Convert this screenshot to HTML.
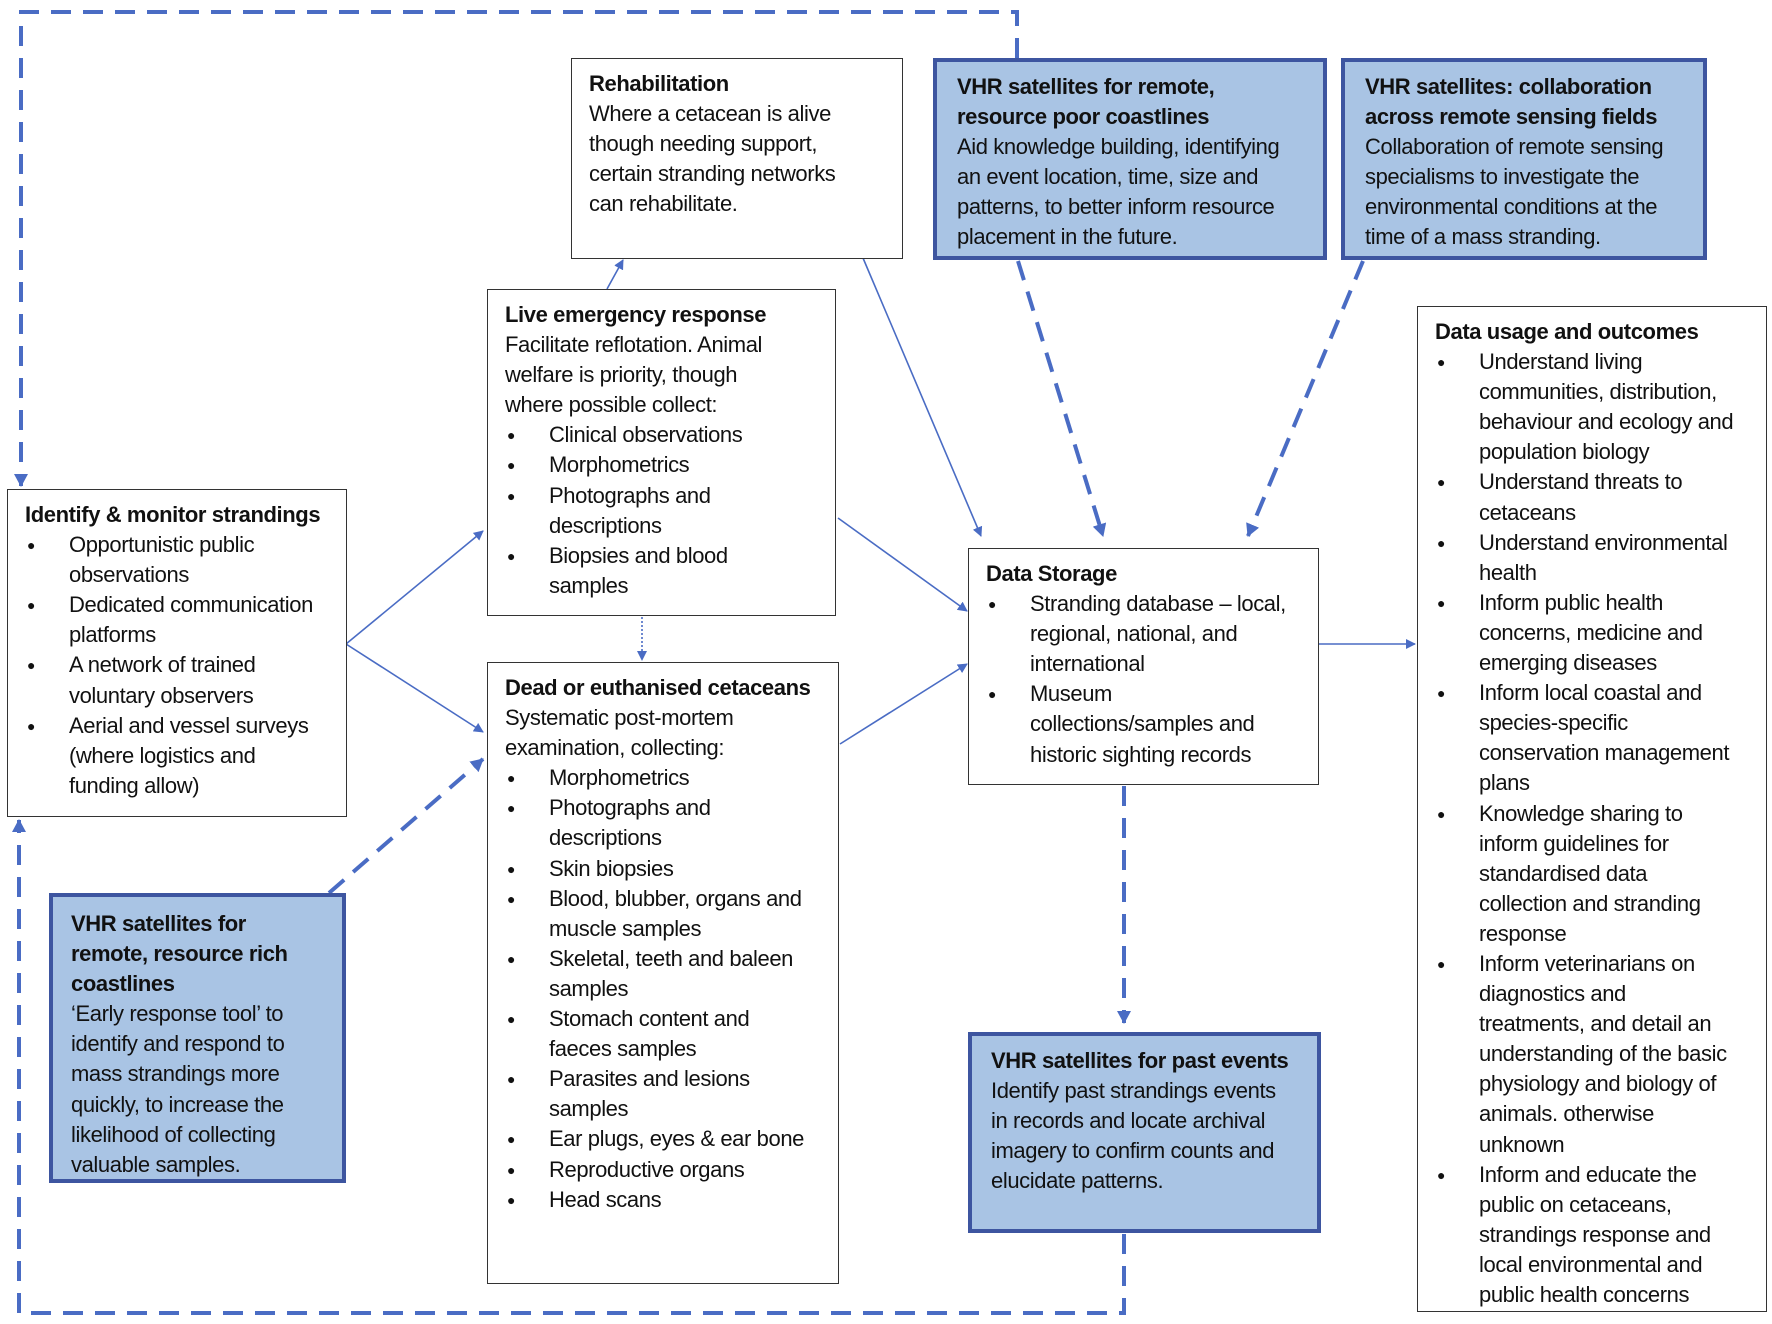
<!DOCTYPE html>
<html><head><meta charset="utf-8"><style>
body{margin:0;width:1772px;height:1324px;background:#fff;position:relative;overflow:hidden;font-family:"Liberation Sans",sans-serif;color:#111}
.b{position:absolute;box-sizing:border-box;border:1.5px solid #333;background:#fff;padding:10px 0 0 17px;font-size:22px;line-height:30.1px;letter-spacing:-0.4px;white-space:nowrap}
.v{background:#a9c4e4;border:4px solid #3d55a0}
.b b{font-weight:bold}
ul{margin:0;padding:0;list-style:none}
li{position:relative;padding-left:44px}
li:before{content:"●";position:absolute;left:2px;top:0;font-size:14px}
svg{position:absolute;left:0;top:0}
</style></head><body>
<svg width="1772" height="1324">
<defs><marker id="a" markerWidth="10" markerHeight="10" refX="9" refY="5" orient="auto" markerUnits="userSpaceOnUse"><path d="M0,0 L10,5 L0,10 z" fill="#4a6cc4"/></marker>
<marker id="A" markerWidth="14" markerHeight="14" refX="12" refY="7" orient="auto" markerUnits="userSpaceOnUse"><path d="M0,0 L13,7 L0,14 z" fill="#4a6cc4"/></marker></defs>
<g fill="none" stroke="#4a6cc4">
<path d="M1017,58 V12 H21 V486" stroke-width="4" stroke-dasharray="20,12" marker-end="url(#A)"/>
<path d="M1124,1234 V1313 H19 V820" stroke-width="4" stroke-dasharray="20,12" marker-end="url(#A)"/>
<path d="M346,644 L483,531" stroke-width="1.6" marker-end="url(#a)"/>
<path d="M346,644 L483,732" stroke-width="1.6" marker-end="url(#a)"/>
<path d="M607,289 L623,260" stroke-width="1.6" marker-end="url(#a)"/>
<path d="M642,617 L642,660" stroke-width="1.6" stroke-dasharray="2,2" marker-end="url(#a)"/>
<path d="M863,258 L981,536" stroke-width="1.6" marker-end="url(#a)"/>
<path d="M838,518 L967,611" stroke-width="1.6" marker-end="url(#a)"/>
<path d="M840,744 L967,664" stroke-width="1.6" marker-end="url(#a)"/>
<path d="M1018,261 L1103,536" stroke-width="4" stroke-dasharray="20,12" marker-end="url(#A)"/>
<path d="M1363,261 L1248,536" stroke-width="4" stroke-dasharray="20,12" marker-end="url(#A)"/>
<path d="M1318,644 L1415,644" stroke-width="1.6" marker-end="url(#a)"/>
<path d="M1124,786 L1124,1023" stroke-width="4" stroke-dasharray="20,12" marker-end="url(#A)"/>
<path d="M329,893 L483,759" stroke-width="4" stroke-dasharray="20,12" marker-end="url(#A)"/>
</g></svg>

<div class="b" style="left:7px;top:489px;width:340px;height:328px"><b>Identify &amp; monitor strandings</b><ul><li>Opportunistic public<br>observations</li><li>Dedicated communication<br>platforms</li><li>A network of trained<br>voluntary observers</li><li>Aerial and vessel surveys<br>(where logistics and<br>funding allow)</li></ul></div>

<div class="b" style="left:571px;top:58px;width:332px;height:201px"><b>Rehabilitation</b><br>Where a cetacean is alive<br>though needing support,<br>certain stranding networks<br>can rehabilitate.</div>

<div class="b" style="left:487px;top:289px;width:349px;height:327px"><b>Live emergency response</b><br>Facilitate reflotation. Animal<br>welfare is priority, though<br>where possible collect:<ul><li>Clinical observations</li><li>Morphometrics</li><li>Photographs and<br>descriptions</li><li>Biopsies and blood<br>samples</li></ul></div>

<div class="b" style="left:487px;top:662px;width:352px;height:622px"><b>Dead or euthanised cetaceans</b><br>Systematic post-mortem<br>examination, collecting:<ul><li>Morphometrics</li><li>Photographs and<br>descriptions</li><li>Skin biopsies</li><li>Blood, blubber, organs and<br>muscle samples</li><li>Skeletal, teeth and baleen<br>samples</li><li>Stomach content and<br>faeces samples</li><li>Parasites and lesions<br>samples</li><li>Ear plugs, eyes &amp; ear bone</li><li>Reproductive organs</li><li>Head scans</li></ul></div>

<div class="b v" style="left:933px;top:58px;width:394px;height:202px;padding-left:20px"><b>VHR satellites for remote,<br>resource poor coastlines</b><br>Aid knowledge building, identifying<br>an event location, time, size and<br>patterns, to better inform resource<br>placement in the future.</div>

<div class="b v" style="left:1341px;top:58px;width:366px;height:202px;padding-left:20px"><b>VHR satellites: collaboration<br>across remote sensing fields</b><br>Collaboration of remote sensing<br>specialisms to investigate the<br>environmental conditions at the<br>time of a mass stranding.</div>

<div class="b" style="left:968px;top:548px;width:351px;height:237px"><b>Data Storage</b><ul><li>Stranding database – local,<br>regional, national, and<br>international</li><li>Museum<br>collections/samples and<br>historic sighting records</li></ul></div>

<div class="b" style="left:1417px;top:306px;width:350px;height:1006px"><b>Data usage and outcomes</b><ul><li>Understand living<br>communities, distribution,<br>behaviour and ecology and<br>population biology</li><li>Understand threats to<br>cetaceans</li><li>Understand environmental<br>health</li><li>Inform public health<br>concerns, medicine and<br>emerging diseases</li><li>Inform local coastal and<br>species-specific<br>conservation management<br>plans</li><li>Knowledge sharing to<br>inform guidelines for<br>standardised data<br>collection and stranding<br>response</li><li>Inform veterinarians on<br>diagnostics and<br>treatments, and detail an<br>understanding of the basic<br>physiology and biology of<br>animals. otherwise<br>unknown</li><li>Inform and educate the<br>public on cetaceans,<br>strandings response and<br>local environmental and<br>public health concerns</li></ul></div>

<div class="b v" style="left:49px;top:893px;width:297px;height:290px;padding-left:18px;padding-top:12px"><b>VHR satellites for<br>remote, resource rich<br>coastlines</b><br>‘Early response tool’ to<br>identify and respond to<br>mass strandings more<br>quickly, to increase the<br>likelihood of collecting<br>valuable samples.</div>

<div class="b v" style="left:968px;top:1032px;width:353px;height:201px;padding-left:19px;padding-top:10px"><b>VHR satellites for past events</b><br>Identify past strandings events<br>in records and locate archival<br>imagery to confirm counts and<br>elucidate patterns.</div>
</body></html>
